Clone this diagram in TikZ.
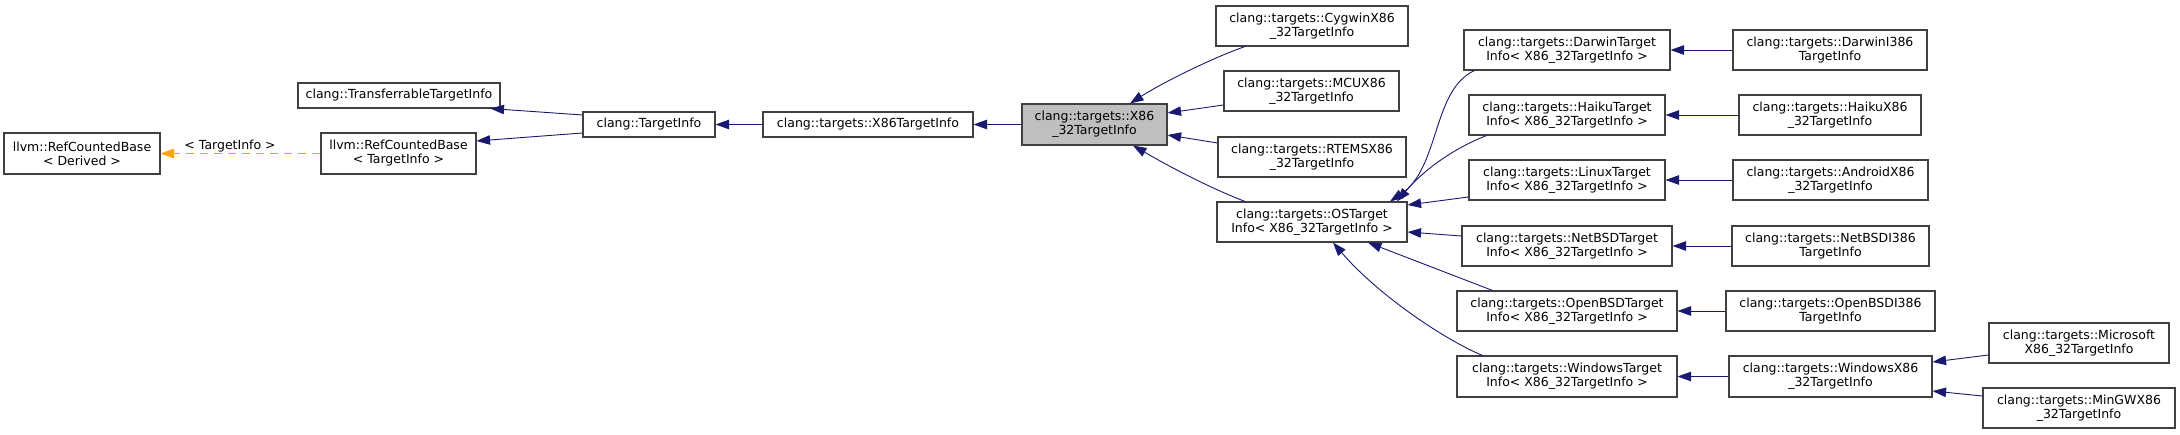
\documentclass[tikz,border=0pt]{standalone}
\usepackage{fontspec}
\setmainfont{DejaVu Sans}
\usetikzlibrary{arrows.meta,calc}
\definecolor{edgeblue}{HTML}{191970}
\definecolor{boxborder}{HTML}{404040}
\definecolor{boxgray}{HTML}{BFBFBF}
\definecolor{dashorange}{HTML}{FFA500}
\begin{document}
\begin{tikzpicture}[x=1pt,y=-1pt,
  cls/.style={draw=boxborder, line width=1.1pt, fill=white, inner sep=0pt, align=center,
    font=\fontsize{12.5}{14}\selectfont, minimum height=40},
  cur/.style={cls, fill=boxgray},
  inh/.style={draw=edgeblue, line width=0.9pt, -{Triangle[length=13.5pt,width=9.5pt]}},
  tmpl/.style={draw=dashorange, line width=1pt, dash pattern=on 8pt off 6pt, -{Triangle[length=13.5pt,width=9.5pt]}},
  lbl/.style={font=\fontsize{12.5}{14}\selectfont, inner sep=1pt}]
\useasboundingbox (0,0) rectangle (2180,435);

% nodes
\node[cls, minimum width=156, minimum height=41] (rcbD) at (82,153.5) {llvm::RefCountedBase\\< Derived >};
\node[cls, minimum width=155, minimum height=41] (rcbT) at (398.5,153.5) {llvm::RefCountedBase\\< TargetInfo >};
\node[cls, minimum width=202, minimum height=25] (trans) at (399,95.5) {clang::TransferrableTargetInfo};
\node[cls, minimum width=132, minimum height=25] (ti) at (649,124.5) {clang::TargetInfo};
\node[cls, minimum width=210, minimum height=25] (x86) at (868,124.5) {clang::targets::X86TargetInfo};
\node[cur, minimum width=145, minimum height=41] (x8632) at (1094.5,124.5) {clang::targets::X86\\\_32TargetInfo};
\node[cls, minimum width=192] (cyg) at (1312,26) {clang::targets::CygwinX86\\\_32TargetInfo};
\node[cls, minimum width=175] (mcu) at (1311.5,91) {clang::targets::MCUX86\\\_32TargetInfo};
\node[cls, minimum width=188] (rtems) at (1312,157) {clang::targets::RTEMSX86\\\_32TargetInfo};
\node[cls, minimum width=190] (os) at (1312,222) {clang::targets::OSTarget\\Info< X86\_32TargetInfo >};
\node[cls, minimum width=206] (darwin) at (1567,50) {clang::targets::DarwinTarget\\Info< X86\_32TargetInfo >};
\node[cls, minimum width=194] (darwinI) at (1830,50) {clang::targets::DarwinI386\\TargetInfo};
\node[cls, minimum width=196] (haiku) at (1567,115) {clang::targets::HaikuTarget\\Info< X86\_32TargetInfo >};
\node[cls, minimum width=182] (haikuX) at (1830,115) {clang::targets::HaikuX86\\\_32TargetInfo};
\node[cls, minimum width=196] (linux) at (1567,180) {clang::targets::LinuxTarget\\Info< X86\_32TargetInfo >};
\node[cls, minimum width=195] (android) at (1830.5,180) {clang::targets::AndroidX86\\\_32TargetInfo};
\node[cls, minimum width=210] (netbsd) at (1567,246) {clang::targets::NetBSDTarget\\Info< X86\_32TargetInfo >};
\node[cls, minimum width=197] (netbsdI) at (1830.5,246) {clang::targets::NetBSDI386\\TargetInfo};
\node[cls, minimum width=220] (openbsd) at (1567,311) {clang::targets::OpenBSDTarget\\Info< X86\_32TargetInfo >};
\node[cls, minimum width=209] (openbsdI) at (1830.5,311) {clang::targets::OpenBSDI386\\TargetInfo};
\node[cls, minimum width=220, minimum height=41] (windows) at (1567,376.5) {clang::targets::WindowsTarget\\Info< X86\_32TargetInfo >};
\node[cls, minimum width=203, minimum height=41] (windowsX) at (1830.5,376.5) {clang::targets::WindowsX86\\\_32TargetInfo};
\node[cls, minimum width=180] (microsoft) at (2079,343) {clang::targets::Microsoft\\X86\_32TargetInfo};
\node[cls, minimum width=192] (mingw) at (2079,408) {clang::targets::MinGWX86\\\_32TargetInfo};

% edges
\draw[tmpl] (rcbT.west) -- node[lbl, pos=0.565, anchor=south] {< TargetInfo >} (rcbD.east);
\draw[inh] ($(ti.west)+(0,-9.5)$) -- ($(trans.south east)+(-10,0)$);
\draw[inh] ($(ti.west)+(0,8.5)$) -- ($(rcbT.east)+(0,-12.5)$);
\draw[inh] (x86.west) -- (ti.east);
\draw[inh] (x8632.west) -- (x86.east);
\draw[inh] ($(cyg.south)+(-67,0)$) .. controls (1212,58) and (1162,83) .. ($(x8632.north)+(35.5,0)$);
\draw[inh] ($(mcu.west)+(0,14)$) -- ($(x8632.east)+(0,-11.5)$);
\draw[inh] ($(rtems.west)+(0,-14)$) -- ($(x8632.east)+(0,10.5)$);
\draw[inh] ($(os.north)+(-67,0)$) .. controls (1205,186) and (1165,164) .. ($(x8632.south)+(38.5,0)$);
\draw[inh] ($(darwin.south west)+(11,0)$) .. controls (1432,90) and (1440,168) .. ($(os.north)+(78,0)$);
\draw[inh] ($(haiku.south west)+(18,0)$) .. controls (1450,150) and (1422,172) .. ($(os.north)+(85,0)$);
\draw[inh] ($(linux.west)+(0,17)$) -- ($(os.east)+(0,-17)$);
\draw[inh] ($(netbsd.west)+(0,-10)$) -- ($(os.east)+(0,10)$);
\draw[inh] ($(openbsd.north west)+(36,0)$) -- ($(os.south)+(56,0)$);
\draw[inh] ($(windows.north west)+(26,0)$) .. controls (1445,340) and (1378,295) .. ($(os.south)+(21,0)$);
\draw[inh] (darwinI.west) -- (darwin.east);
\draw[inh] (haikuX.west) -- (haiku.east);
\draw[inh] (android.west) -- (linux.east);
\draw[inh] (netbsdI.west) -- (netbsd.east);
\draw[inh] (openbsdI.west) -- (openbsd.east);
\draw[inh] (windowsX.west) -- (windows.east);
\draw[inh] ($(microsoft.west)+(0,12)$) -- ($(windowsX.east)+(0,-14.5)$);
\draw[inh] ($(mingw.west)+(0,-12)$) -- ($(windowsX.east)+(0,14.5)$);
\end{tikzpicture}
\end{document}
